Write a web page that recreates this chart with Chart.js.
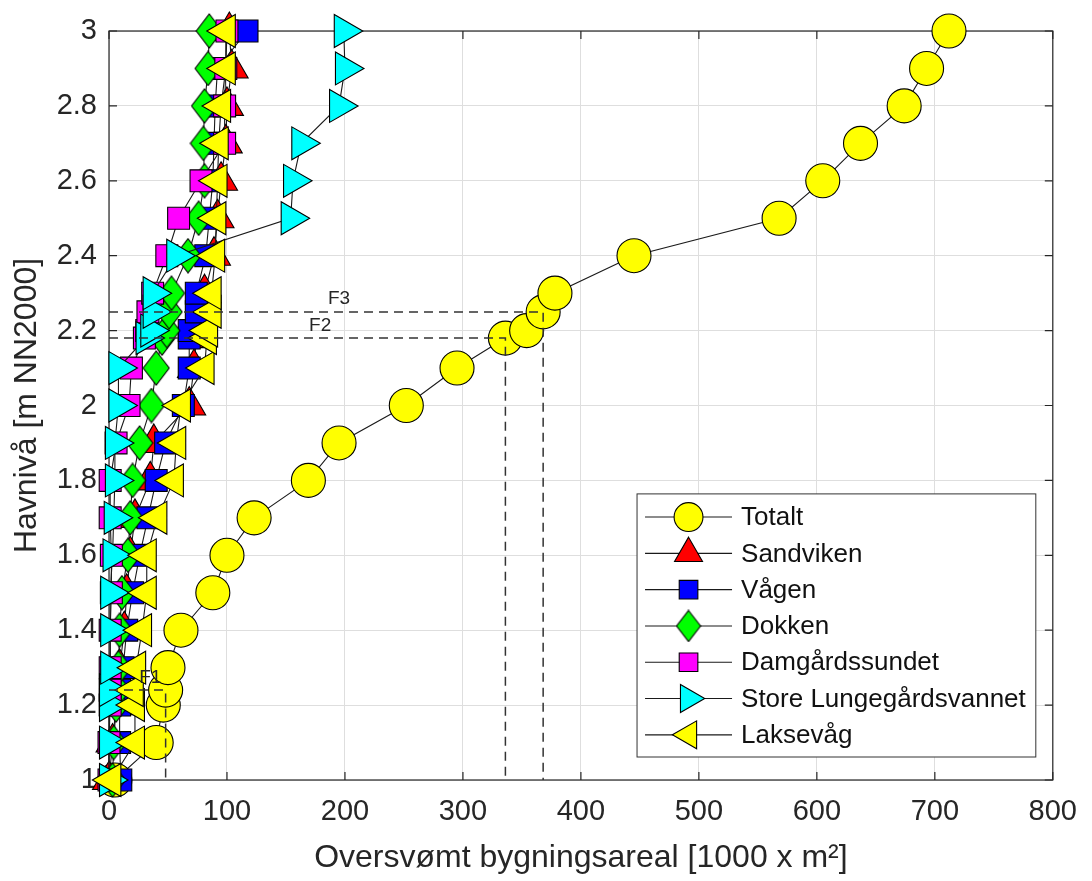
<!DOCTYPE html>
<html>
<head>
<meta charset="utf-8">
<script src="https://cdn.jsdelivr.net/npm/chart.js@4.4.1/dist/chart.umd.min.js"></script>
<style>
  html, body { margin: 0; padding: 0; background: #fff; }
  #wrap { width: 1092px; height: 881px; }
</style>
</head>
<body>
<div id="wrap"><canvas id="chart"></canvas></div>
<script>
// water levels (y) shared by every series
const levels = [1.0, 1.1, 1.2, 1.24, 1.3, 1.4, 1.5, 1.6, 1.7, 1.8, 1.9, 2.0, 2.1, 2.18, 2.2, 2.25, 2.3, 2.4, 2.5, 2.6, 2.7, 2.8, 2.9, 3.0];

// flooded building area, 1000 m2
const totalt    = [5, 40, 46, 48, 50, 61, 88, 100, 123, 169, 195, 252, 295, 336, 354, 368, 378, 445, 568, 605, 637, 674, 693, 712];
const sandviken = [0, 3, 6, 7, 9, 13, 15, 18, 22, 35, 38, 68, 72, 74, 75, 78, 81, 89, 92, 95, 99, 100, 104, 102];
const vagen     = [10, 9, 9, 9, 12, 15, 20, 26, 33, 40, 48, 63, 68, 68, 68, 74, 74, 82, 85, 88, 89, 90, 92, 117];
const dokken    = [3, 4, 6, 7, 8, 9, 11, 16, 18, 20, 26, 36, 40, 45, 49, 51, 53, 67, 76, 81, 80, 81, 84, 85];
const damgard   = [0, 0, 1, 1, 1, 1, 2, 2, 1, 1, 6, 17, 19, 30, 32, 33, 37, 49, 59, 78, 98, 98, 99, 100];
const lungegard = [0, 0, 0, 0, 1, 1, 1, 3, 4, 5, 5, 8, 8, 31, 35, 37, 37, 57, 154, 156, 163, 195, 200, 199];
const laksevag  = [2, 22, 22, 21, 23, 28, 32, 32, 41, 55, 57, 61, 81, 83, 84, 87, 87, 90, 91, 92, 93, 95, 99, 99];

const seriesNames = ['Totalt', 'Sandviken', 'Vågen', 'Dokken', 'Damgårdssundet', 'Store Lungegårdsvannet', 'Laksevåg'];
const seriesValues = [totalt, sandviken, vagen, dokken, damgard, lungegard, laksevag];

// marked flood levels F1..F3
const floodNames  = ['F1', 'F2', 'F3'];
const floodLevels = [1.24, 2.18, 2.25];
const floodAreas  = [48, 336, 368];
const floodLabelX = [35, 179, 195];
const floodLabelY = [1.273, 2.213, 2.285];

const xTicks = [0, 100, 200, 300, 400, 500, 600, 700, 800];
const yTicks = [1, 1.2, 1.4, 1.6, 1.8, 2, 2.2, 2.4, 2.6, 2.8, 3];

const FONT = '"Liberation Sans", Arial, Helvetica, sans-serif';
const INK = '#262626';
Chart.defaults.font.family = FONT;
Chart.defaults.color = INK;

// matlab diamond is taller than wide, chart.js rectRot is square -> own canvas
function diamond(w, h, fill) {
  const c = document.createElement('canvas');
  c.width = w + 2;
  c.height = h + 2;
  const g = c.getContext('2d');
  g.beginPath();
  g.moveTo(c.width / 2, 1);
  g.lineTo(c.width - 1, c.height / 2);
  g.lineTo(c.width / 2, c.height - 1);
  g.lineTo(1, c.height / 2);
  g.closePath();
  g.fillStyle = fill;
  g.fill();
  g.lineWidth = 1.1;
  g.strokeStyle = '#000';
  g.stroke();
  return c;
}

// look of each series
const seriesColors = ['#ffff00', '#ff0000', '#0000ff', '#00ff00', '#ff00ff', '#00ffff', '#ffff00'];
const markerStyle = [
  { style: 'circle', rot: 0, r: 17 },
  { style: 'triangle', rot: 0, r: 19 },
  { style: 'rect', rot: 0, r: 15.5 },
  { style: diamond(26, 34, '#00ff00'), legend: diamond(24, 31, '#00ff00'), rot: 0, r: 16 },
  { style: 'rect', rot: 0, r: 15.5 },
  { style: 'triangle', rot: 90, r: 19 },
  { style: 'triangle', rot: -90, r: 19 }
];

const datasets = seriesNames.map((name, i) => ({
  label: name,
  data: levels.map((lv, k) => ({ x: seriesValues[i][k], y: lv })),
  showLine: true,
  borderColor: '#1a1a1a',
  borderWidth: 1.1,
  pointStyle: markerStyle[i].style,
  pointRotation: markerStyle[i].rot,
  pointRadius: markerStyle[i].r,
  pointHoverRadius: markerStyle[i].r,
  pointBackgroundColor: seriesColors[i],
  pointBorderColor: '#000',
  pointBorderWidth: 1.1,
  order: seriesNames.length - i,
  clip: false
}));

floodNames.forEach((n, k) => {
  datasets.push({
    label: n,
    data: [
      { x: xTicks[0], y: floodLevels[k] },
      { x: floodAreas[k], y: floodLevels[k] },
      { x: floodAreas[k], y: yTicks[0] }
    ],
    showLine: true,
    borderColor: '#333',
    borderWidth: 1.5,
    borderDash: [9, 6],
    pointRadius: 0,
    order: -1,
    clip: false
  });
});

// box + inward ticks like matlab
const frame = {
  id: 'frame',
  beforeDatasetsDraw(chart) {
    const { ctx, chartArea: a, scales: { x, y } } = chart;
    const tl = 8;
    ctx.save();
    ctx.strokeStyle = INK;
    ctx.lineWidth = 1.2;
    ctx.beginPath();
    xTicks.forEach(v => {
      const px = x.getPixelForValue(v);
      ctx.moveTo(px, a.bottom); ctx.lineTo(px, a.bottom - tl);
      ctx.moveTo(px, a.top); ctx.lineTo(px, a.top + tl);
    });
    yTicks.forEach(v => {
      const py = y.getPixelForValue(v);
      ctx.moveTo(a.left, py); ctx.lineTo(a.left + tl, py);
      ctx.moveTo(a.right, py); ctx.lineTo(a.right - tl, py);
    });
    ctx.stroke();
    ctx.strokeRect(a.left, a.top, a.right - a.left, a.bottom - a.top);
    ctx.restore();
  },
  afterDatasetsDraw(chart) {
    const { ctx, scales: { x, y } } = chart;
    ctx.save();
    ctx.font = '19px ' + FONT;
    ctx.fillStyle = INK;
    ctx.textAlign = 'center';
    ctx.textBaseline = 'middle';
    floodNames.forEach((n, k) => {
      ctx.fillText(n, x.getPixelForValue(floodLabelX[k]), y.getPixelForValue(floodLabelY[k]));
    });
    ctx.restore();
  }
};

const legendBox = {
  id: 'legendBox',
  afterDraw(chart) {
    const { ctx, chartArea: a } = chart;
    const rowH = 36.3, lineLen = 87, padL = 8, gap = 9, padR = 10;
    ctx.save();
    ctx.font = '26px ' + FONT;
    const textW = Math.max(...seriesNames.map(n => ctx.measureText(n).width));
    const w = padL + lineLen + gap + textW + padR;
    const h = rowH * seriesNames.length + 9;
    const x0 = a.right - 17 - w;
    const y0 = a.bottom - 23 - h;
    ctx.fillStyle = '#fff';
    ctx.fillRect(x0, y0, w, h);
    ctx.strokeStyle = '#333';
    ctx.lineWidth = 1;
    ctx.strokeRect(x0, y0, w, h);
    seriesNames.forEach((name, i) => {
      const cy = y0 + 5 + rowH * (i + 0.5);
      const lx = x0 + padL;
      ctx.strokeStyle = '#1a1a1a';
      ctx.lineWidth = 1.1;
      ctx.beginPath();
      ctx.moveTo(lx, cy); ctx.lineTo(lx + lineLen, cy);
      ctx.stroke();
      ctx.fillStyle = seriesColors[i];
      ctx.strokeStyle = '#000';
      Chart.helpers.drawPoint(ctx, {
        pointStyle: markerStyle[i].legend || markerStyle[i].style,
        rotation: markerStyle[i].rot,
        radius: markerStyle[i].r * 0.85,
        borderWidth: 1.1
      }, lx + lineLen / 2, cy);
      ctx.fillStyle = '#111';
      ctx.textAlign = 'left';
      ctx.textBaseline = 'middle';
      ctx.fillText(name, lx + lineLen + gap, cy + 1);
    });
    ctx.restore();
  }
};

new Chart(document.getElementById('chart'), {
  type: 'scatter',
  data: { datasets },
  options: {
    responsive: true,
    maintainAspectRatio: false,
    animation: false,
    layout: { autoPadding: false, padding: { left: 0, top: 31, right: 34, bottom: 0 } },
    plugins: { legend: { display: false }, tooltip: { enabled: false } },
    events: [],
    scales: {
      x: {
        type: 'linear',
        min: 0,
        max: 800,
        afterBuildTicks: s => { s.ticks = xTicks.map(v => ({ value: v })); },
        afterFit: s => { s.height = 101; },
        grid: { color: '#dedede', lineWidth: 1, drawTicks: false },
        border: { display: false },
        ticks: { padding: 15, color: INK, font: { size: 29 }, maxRotation: 0, callback: v => String(v) },
        title: {
          display: true,
          text: 'Oversvømt bygningsareal [1000 x m²]',
          color: INK,
          font: { size: 32 },
          padding: { top: 0, bottom: 4 }
        }
      },
      y: {
        type: 'linear',
        min: 1,
        max: 3,
        afterBuildTicks: s => { s.ticks = yTicks.map(v => ({ value: v })); },
        afterFit: s => { s.width = 109; },
        grid: { color: '#dedede', lineWidth: 1, drawTicks: false },
        border: { display: false },
        ticks: { padding: 12, color: INK, font: { size: 29 }, callback: v => String(+v.toFixed(1)) },
        title: {
          display: true,
          text: 'Havnivå [m NN2000]',
          color: INK,
          font: { size: 32 },
          padding: { top: 8, bottom: 0 }
        }
      }
    }
  },
  plugins: [frame, legendBox]
});
</script>
</body>
</html>
